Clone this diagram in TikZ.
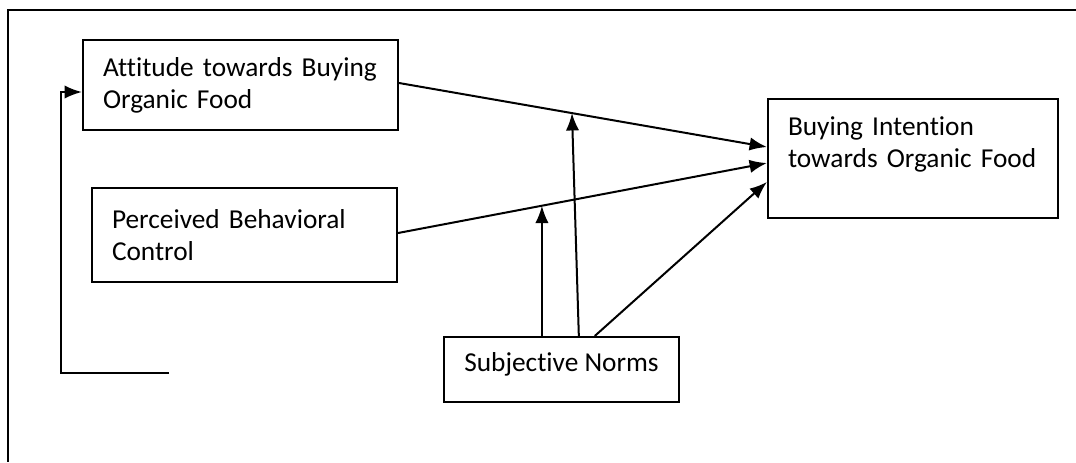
\documentclass[tikz,border=0pt]{standalone}
\usepackage{fontspec}
\setmainfont{Carlito}[Ligatures=NoCommon]
\usetikzlibrary{arrows.meta,calc}

\begin{document}
\begin{tikzpicture}[x=0.75pt, y=-0.75pt,
    factor/.style={draw, line width=1.6pt, align=left, inner xsep=15pt, inner ysep=0pt,
      font=\fontsize{20.5}{24}\selectfont},
    link/.style={line width=1.5pt, -{Latex[length=13pt,width=10pt]}}]
      \useasboundingbox (0,0) rectangle (1076,462);
      \draw[line width=1.6pt] (1076,10) -- (8,10) -- (8,462); % frame runs off the page

      \node[factor, text width=206.25pt, minimum height=67.5pt] (att) at (240.5,85) {Attitude towards Buying\\Organic Food};
      \node[factor, text width=198.75pt, minimum height=70.5pt] (pbc) at (244.5,235) {Perceived Behavioral\\Control};
      \node[factor, text width=187.5pt, minimum height=89.25pt, text depth=48pt] (bi) at (913,158.5) {Buying Intention\\towards Organic Food};
      \node[factor, align=center, minimum width=176.25pt, minimum height=48.75pt, text depth=11pt] (sn) at (561.5,369.5) {Subjective Norms};

      \coordinate (fbstart) at (169,373);
      \coordinate (fbcorner) at (61,373);

      \draw[link] ([yshift=1.5pt]att.east) -- coordinate[pos=0.47] (attmod) ([yshift=8.6pt]bi.west);
      \draw[link] ([yshift=1.5pt]pbc.east) -- coordinate[pos=0.39] (pbcmod) ([yshift=-3.4pt]bi.west);
      \draw[link] ([xshift=25pt]sn.north) -- ([yshift=-17.6pt]bi.west);

      \draw[link] (pbcmod |- sn.north) -- (pbcmod);
      \draw[link] ([xshift=13pt]sn.north) -- (attmod);

      \draw[link] (fbstart) -- (fbcorner) |- ([yshift=-5.25pt]att.west);
\end{tikzpicture}
\end{document}
